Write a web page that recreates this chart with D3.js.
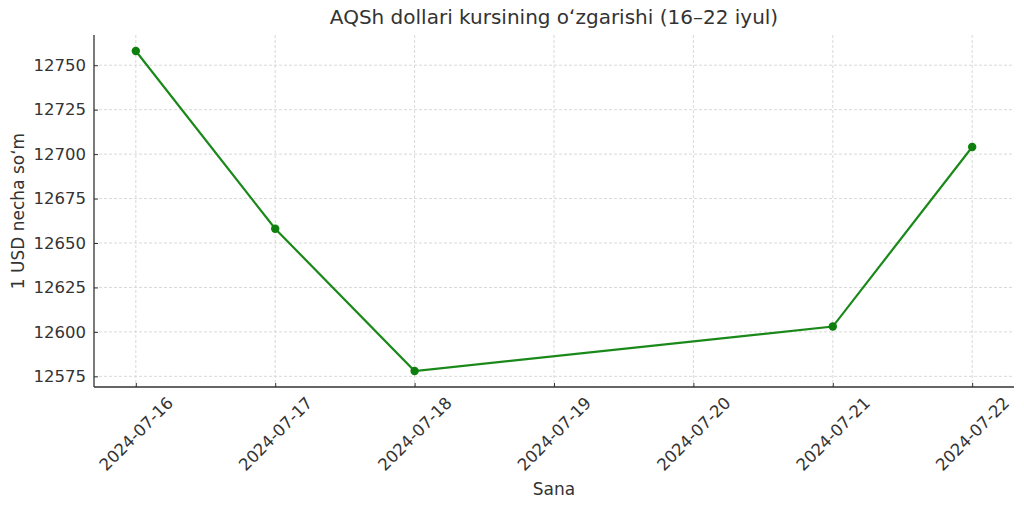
<!DOCTYPE html>
<html>
<head>
<meta charset="utf-8">
<script src="https://cdn.jsdelivr.net/npm/d3@7"></script>
<style>
  html, body { margin: 0; padding: 0; background: #fff; }
  svg { display: block; font-family: "DejaVu Sans", sans-serif; }
</style>
</head>
<body>
<svg id="chart" width="1024" height="509"></svg>
<script>
const titleText = "AQSh dollari kursining oʻzgarishi (16–22 iyul)";
const xLabel = "Sana";
const yLabel = "1 USD necha soʻm";
const tickDates = ["2024-07-16","2024-07-17","2024-07-18","2024-07-19","2024-07-20","2024-07-21","2024-07-22"];
const obsDates = ["2024-07-16","2024-07-17","2024-07-18","2024-07-21","2024-07-22"];
const rates = [12758, 12658, 12578, 12603, 12704];
const yTicks = [12575, 12600, 12625, 12650, 12675, 12700, 12725, 12750];

const W = 1024, H = 509;
const m = { left: 94, right: 1014, top: 35, bottom: 387 };
const svg = d3.select("#chart");
const parse = d3.utcParse("%Y-%m-%d");

const t0 = parse(tickDates[0]).getTime(), t1 = parse(tickDates[tickDates.length - 1]).getTime();
const pad = (t1 - t0) * 0.05;
const x = d3.scaleUtc().domain([new Date(t0 - pad), new Date(t1 + pad)]).range([m.left, m.right]);
const yMin = d3.min(rates), yMax = d3.max(rates), yPad = (yMax - yMin) * 0.05;
const y = d3.scaleLinear().domain([yMin - yPad, yMax + yPad]).range([m.bottom, m.top]);

const textColor = "#333";

// grid
const grid = svg.append("g");
grid.selectAll("line.vx").data(tickDates).join("line")
  .attr("x1", d => x(parse(d))).attr("x2", d => x(parse(d)))
  .attr("y1", m.top).attr("y2", m.bottom)
  .attr("stroke", "#cfcfcf").attr("stroke-width", 0.8).attr("stroke-dasharray", "3,2");
grid.selectAll("line.hy").data(yTicks).join("line")
  .attr("x1", m.left).attr("x2", m.right)
  .attr("y1", d => y(d)).attr("y2", d => y(d))
  .attr("stroke", "#cfcfcf").attr("stroke-width", 0.8).attr("stroke-dasharray", "3,2");

// axes
const xAxis = d3.axisBottom(x).tickValues(tickDates.map(parse)).tickSizeInner(-4).tickSizeOuter(0).tickFormat(d3.utcFormat("%Y-%m-%d"));
const gx = svg.append("g").attr("transform", `translate(0,${m.bottom})`).call(xAxis);
gx.select(".domain").attr("stroke", textColor).attr("stroke-width", 1.3).attr("d", `M${m.left},0H${m.right}`);
gx.selectAll(".tick line").attr("stroke", textColor);
gx.selectAll(".tick text")
  .attr("font-size", 16.5).attr("fill", textColor).attr("font-family", "DejaVu Sans")
  .attr("text-anchor", "middle").attr("dy", null).attr("y", 0)
  .attr("dominant-baseline", "central")
  .attr("transform", "translate(0,47) rotate(-45)");

const yAxis = d3.axisLeft(y).tickValues(yTicks).tickSizeInner(-4).tickSizeOuter(0).tickPadding(8).tickFormat(d3.format("d"));
const gy = svg.append("g").attr("transform", `translate(${m.left},0)`).call(yAxis);
gy.select(".domain").attr("stroke", textColor).attr("stroke-width", 1.3).attr("d", `M0,${m.top}V${m.bottom}`);
gy.selectAll(".tick line").attr("stroke", textColor);
gy.selectAll(".tick text").attr("font-size", 16.5).attr("fill", textColor).attr("font-family", "DejaVu Sans");

// line
const pts = obsDates.map((d, i) => ({ d: parse(d), v: rates[i] }));
svg.append("path").datum(pts)
  .attr("fill", "none").attr("stroke", "#1a891a").attr("stroke-width", 2.2)
  .attr("d", d3.line().x(p => x(p.d)).y(p => y(p.v)));
svg.selectAll("circle.pt").data(pts).join("circle")
  .attr("cx", p => x(p.d)).attr("cy", p => y(p.v)).attr("r", 4.2)
  .attr("fill", "#0d7f0d");

// labels
svg.append("text").attr("x", (m.left + m.right) / 2).attr("y", 24)
  .attr("text-anchor", "middle").attr("font-size", 20).attr("fill", textColor).text(titleText);
svg.append("text").attr("x", (m.left + m.right) / 2).attr("y", 495)
  .attr("text-anchor", "middle").attr("font-size", 17).attr("fill", textColor).text(xLabel);
svg.append("text").attr("transform", `translate(24,${(m.top + m.bottom) / 2}) rotate(-90)`)
  .attr("text-anchor", "middle").attr("font-size", 17).attr("fill", textColor).text(yLabel);
</script>
</body>
</html>
